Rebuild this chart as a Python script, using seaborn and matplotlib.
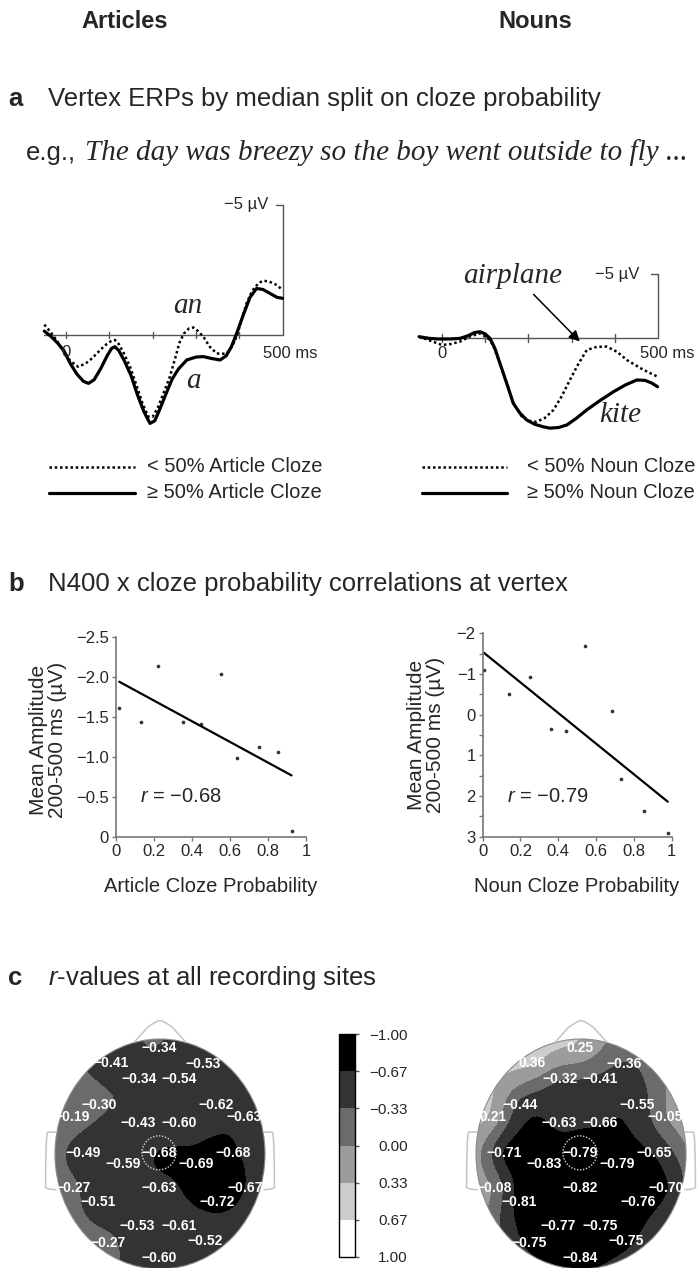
import numpy as np
import pandas as pd
import matplotlib
matplotlib.use("Agg")
import matplotlib.pyplot as plt
import seaborn as sns
from matplotlib.patches import Circle, Ellipse, PathPatch
from matplotlib.path import Path

# ---------------- data ----------------
# Vertex ERPs (ms, microvolts; negative plotted up)
art_hi_ms = [-50, -35, -20, -5, 10, 25, 40, 52, 65, 80, 95, 105, 113, 122, 135, 150, 165, 180, 194, 205,
             218, 230, 245, 260, 279, 300, 317, 335, 356, 370, 382, 395, 410, 425, 440, 455, 471, 487, 500]
art_hi_uv = [-0.15, 0.05, 0.3, 0.6, 1.1, 1.5, 1.78, 1.86, 1.72, 1.3, 0.8, 0.52, 0.45, 0.6, 1.0, 1.55, 2.3,
             2.95, 3.4, 3.3, 2.8, 2.3, 1.7, 1.3, 0.96, 0.85, 0.83, 0.9, 0.96, 0.8, 0.45, -0.1, -0.8, -1.45,
             -1.79, -1.75, -1.6, -1.45, -1.41]
art_lo_ms = [-50, -35, -20, -5, 10, 28, 45, 60, 71, 90, 105, 113, 122, 135, 148, 162, 176, 190, 200, 212,
             226, 240, 252, 262, 272, 284, 294, 305, 317, 332, 348, 362, 371, 383, 394, 405, 417, 430, 445,
             456, 470, 487, 500]
art_lo_uv = [-0.4, -0.1, 0.25, 0.65, 1.0, 1.22, 1.1, 0.9, 0.71, 0.4, 0.22, 0.19, 0.35, 0.75, 1.22, 1.9,
             2.6, 3.14, 3.15, 2.8, 2.2, 1.6, 0.9, 0.3, -0.05, -0.25, -0.29, -0.15, 0.06, 0.45, 0.71, 0.72,
             0.71, 0.45, 0.06, -0.55, -1.22, -1.7, -2.0, -2.09, -2.05, -1.92, -1.73]
noun_hi_ms = [-53, -30, -10, 0, 20, 42, 60, 75, 88, 100, 111, 122, 134, 150, 165, 180, 196, 215, 235, 250,
              270, 289, 310, 335, 365, 397, 425, 451, 470, 485, 499]
noun_hi_uv = [-0.08, 0.05, 0.1, 0.1, 0.1, 0.05, -0.15, -0.4, -0.47, -0.3, 0.05, 0.8, 2.0, 3.6, 5.15, 5.9,
              6.46, 6.8, 7.0, 7.1, 7.05, 6.85, 6.35, 5.67, 4.95, 4.24, 3.7, 3.32, 3.35, 3.55, 3.85]
noun_lo_ms = [-53, -30, -10, 0, 20, 42, 65, 88, 100, 111, 122, 134, 150, 165, 185, 205, 219, 238, 258, 277,
              296, 315, 335, 358, 381, 405, 428, 460, 480, 499]
noun_lo_uv = [-0.08, 0.2, 0.45, 0.57, 0.5, 0.3, -0.1, -0.34, -0.1, 0.18, 0.9, 2.0, 3.6, 5.15, 6.2, 6.55,
              6.6, 6.3, 5.67, 4.6, 3.32, 2.1, 0.97, 0.72, 0.7, 1.1, 1.75, 2.4, 2.75, 3.06]

# N400 x cloze correlations
art_cloze = [0.017, 0.132, 0.219, 0.351, 0.446, 0.553, 0.639, 0.754, 0.851, 0.924]
art_amp = [-1.61, -1.44, -2.13, -1.44, -1.41, -2.04, -0.99, -1.12, -1.06, -0.08]
noun_cloze = [0.007, 0.137, 0.248, 0.361, 0.441, 0.541, 0.684, 0.732, 0.855, 0.979]
noun_amp = [-1.11, -0.50, -0.92, 0.35, 0.40, -1.68, -0.10, 1.59, 2.38, 2.90]
art_r_label = "\u22120.68"
noun_r_label = "\u22120.79"
art_yticks = [-2.5, -2.0, -1.5, -1.0, -0.5, 0]
art_yticklabels = ["\u22122.5", "\u22122.0", "\u22121.5", "\u22121.0", "\u22120.5", "0"]
noun_yticks = [-2, -1, 0, 1, 2, 3]
noun_yticklabels = ["\u22122", "\u22121", "0", "1", "2", "3"]
xticks = [0, 0.2, 0.4, 0.6, 0.8, 1]
xticklabels = ["0", "0.2", "0.4", "0.6", "0.8", "1"]

# r-values at recording sites (head coordinates, radius 1)
elec_x = [-0.01, -0.47, 0.41, -0.20, 0.18, -0.58, 0.53, -0.84, 0.80, -0.21, 0.18, -0.73, -0.01, 0.70,
          -0.35, 0.34, -0.83, -0.01, 0.81, -0.59, 0.54, -0.22, 0.18, -0.49, 0.43, -0.01]
elec_y = [0.92, 0.79, 0.78, 0.65, 0.65, 0.43, 0.43, 0.32, 0.32, 0.27, 0.27, 0.01, 0.01, 0.01,
          -0.09, -0.09, -0.30, -0.30, -0.30, -0.42, -0.42, -0.63, -0.63, -0.77, -0.76, -0.90]
r_art = [-0.34, -0.41, -0.53, -0.34, -0.54, -0.30, -0.62, -0.19, -0.63, -0.43, -0.60, -0.49, -0.68, -0.68,
         -0.59, -0.69, -0.27, -0.63, -0.67, -0.51, -0.72, -0.53, -0.61, -0.27, -0.52, -0.60]
r_noun = [0.25, 0.36, -0.36, -0.32, -0.41, -0.44, -0.55, 0.21, -0.05, -0.63, -0.66, -0.71, -0.79, -0.65,
          -0.83, -0.79, -0.08, -0.82, -0.70, -0.81, -0.76, -0.77, -0.75, -0.75, -0.75, -0.84]
cbar_levels = [-1.0, -0.67, -0.33, 0.0, 0.33, 0.67, 1.0]
cbar_ticklabels = ["\u22121.00", "\u22120.67", "\u22120.33", "0.00", "0.33", "0.67", "1.00"]
level_colors = ["#000000", "#333333", "#6b6b6b", "#9c9c9c", "#cdcdcd", "#ffffff"]

# ---------------- style ----------------
sns.set_theme(style="white")
plt.rcParams["font.family"] = ["Liberation Sans", "DejaVu Sans"]
plt.rcParams["mathtext.fontset"] = "custom"
plt.rcParams["mathtext.rm"] = "Liberation Sans"
plt.rcParams["mathtext.it"] = "Liberation Sans:italic"

W, H = 698, 1268
fig = plt.figure(figsize=(W / 100, H / 100), dpi=100)
fig.patch.set_facecolor("white")


def add_ax(l, t, r, b):
    a = fig.add_axes([l / W, 1 - b / H, (r - l) / W, (b - t) / H])
    a.set_facecolor("none")
    return a


def ftxt(x, y, s, **kw):
    return fig.text(x / W, 1 - y / H, s, **kw)


overlay = add_ax(0, 0, W, H)
overlay.set_xlim(0, W)
overlay.set_ylim(H, 0)
overlay.axis("off")

SERIF = ["Liberation Serif", "DejaVu Serif"]
AX_GRAY = "#555555"

# ---------------- headings ----------------
ftxt(125, 22, "Articles", fontsize=17, fontweight="bold", ha="center", va="center")
ftxt(535, 22, "Nouns", fontsize=17, fontweight="bold", ha="center", va="center")
ftxt(8, 106, "a", fontsize=18.5, fontweight="bold", va="baseline")
ftxt(48, 106, "Vertex ERPs by median split on cloze probability", fontsize=18.5, va="baseline")
ftxt(8, 591, "b", fontsize=18.5, fontweight="bold", va="baseline")
ftxt(48, 591, "N400 x cloze probability correlations at vertex", fontsize=18.5, va="baseline")
ftxt(8, 985, "c", fontsize=18.5, fontweight="bold", va="baseline")
ftxt(48, 985, r"$r$-values at all recording sites", fontsize=18.5, va="baseline")

eg = ftxt(26, 160, "e.g.,", fontsize=18.5, va="baseline")
fig.canvas.draw()
x_start = eg.get_window_extent().x1 + 9
sent = ftxt(x_start, 160, "The day was breezy so the boy went outside to fly ...",
            fontsize=20, va="baseline", family=SERIF, style="italic")
fig.canvas.draw()
wid = sent.get_window_extent().width
sent.set_fontsize(20 * (689 - x_start) / wid)


# ---------------- panel a: ERPs ----------------
def draw_erp(ax, hi_ms, hi_uv, lo_ms, lo_uv, tick_half):
    for t in [0, 100, 200, 300, 400]:
        ax.plot([t, t], [-tick_half, tick_half], color=AX_GRAY, lw=1, zorder=1)
    ax.plot([-50, 500], [0, 0], color=AX_GRAY, lw=1, zorder=1)
    ax.plot([500, 500], [0, -5], color=AX_GRAY, lw=1, zorder=1)
    ax.plot([484, 500], [-5, -5], color=AX_GRAY, lw=1, zorder=1)
    sns.lineplot(data=pd.DataFrame({"ms": lo_ms, "uv": lo_uv}), x="ms", y="uv", ax=ax,
                 color="black", lw=1.8, linestyle=(0, (1, 1.1)), estimator=None, sort=False, zorder=3)
    sns.lineplot(data=pd.DataFrame({"ms": hi_ms, "uv": hi_uv}), x="ms", y="uv", ax=ax,
                 color="black", lw=2.3, estimator=None, sort=False, zorder=4)
    ax.axis("off")


axEL = add_ax(66 - 60 * 0.433, 335 - 5.6 * 26, 66 + 520 * 0.433, 335 + 4.2 * 26)
draw_erp(axEL, art_hi_ms, art_hi_uv, art_lo_ms, art_lo_uv, 0.13)
axEL.set_xlim(-60, 520)
axEL.set_ylim(4.2, -5.6)

axER = add_ax(442 - 60 * 0.432, 337.7 - 5.6 * 12.74, 442 + 520 * 0.432, 337.7 + 8.2 * 12.74)
draw_erp(axER, noun_hi_ms, noun_hi_uv, noun_lo_ms, noun_lo_uv, 0.3)
axER.set_xlim(-60, 520)
axER.set_ylim(8.2, -5.6)
axER.annotate("", xy=(319, 0.3), xytext=(212, -3.4),
              arrowprops=dict(arrowstyle="-|>", color="black", lw=1.1, mutation_scale=16,
                              shrinkA=0, shrinkB=0), zorder=6)

ftxt(268, 205, "\u22125 \u00b5V", fontsize=12, ha="right", va="center")
ftxt(639, 274, "\u22125 \u00b5V", fontsize=12, ha="right", va="center")
ftxt(66, 352, "0", fontsize=12, ha="center", va="center")
ftxt(442, 353, "0", fontsize=12, ha="center", va="center")
ftxt(290, 353, "500 ms", fontsize=12, ha="center", va="center")
ftxt(667, 353, "500 ms", fontsize=12, ha="center", va="center")
ftxt(188, 306, "an", fontsize=21, family=SERIF, style="italic", ha="center", va="center")
ftxt(193, 381, "a", fontsize=21, family=SERIF, style="italic", ha="center", va="center")
ftxt(513, 276, "airplane", fontsize=21, family=SERIF, style="italic", ha="center", va="center")
ftxt(620, 415, "kite", fontsize=21, family=SERIF, style="italic", ha="center", va="center")

# legends
for (x0, x1, tx, lo_lab, hi_lab) in [(49, 135, 147, "< 50% Article Cloze", "\u2265 50% Article Cloze"),
                                      (422, 507, 527, "< 50% Noun Cloze", "\u2265 50% Noun Cloze")]:
    overlay.plot([x0, x1], [466.5, 466.5], color="black", lw=1.8, linestyle=(0, (1, 1.1)))
    overlay.plot([x0, x1], [492.5, 492.5], color="black", lw=2.3)
    overlay.text(tx, 466.5, lo_lab, fontsize=14.5, va="center")
    overlay.text(tx, 492.5, hi_lab, fontsize=14.5, va="center")


# ---------------- panel b: scatter ----------------
def style_scatter(ax, yticks, ylabels, ylim, minor=None):
    ax.set_xlim(0, 1)
    ax.set_ylim(*ylim)
    ax.set_xticks(xticks)
    ax.set_xticklabels(xticklabels)
    ax.set_yticks(yticks)
    ax.set_yticklabels(ylabels)
    if minor is not None:
        ax.set_yticks(minor, minor=True)
    sns.despine(ax=ax)
    for s in ["left", "bottom"]:
        ax.spines[s].set_color("#777777")
        ax.spines[s].set_linewidth(1.2)
    ax.tick_params(which="both", direction="out", length=3, width=1, color="#777777",
                   labelsize=12, pad=2, left=True, bottom=True)
    ax.set_xlabel("")
    ax.set_ylabel("")


axSL = add_ax(116, 636.7, 306, 837.3)
sns.regplot(x=np.array(art_cloze), y=np.array(art_amp), ax=axSL, ci=None, truncate=True, color="black",
            scatter_kws=dict(s=7, linewidths=0), line_kws=dict(lw=1.6))
style_scatter(axSL, art_yticks, art_yticklabels, (0, -2.5))

axSR = add_ax(482.7, 633.3, 671.7, 836.7)
sns.regplot(x=np.array(noun_cloze), y=np.array(noun_amp), ax=axSR, ci=None, truncate=True, color="black",
            scatter_kws=dict(s=7, linewidths=0), line_kws=dict(lw=1.6))
style_scatter(axSR, noun_yticks, noun_yticklabels, (3, -2), minor=[-1.5, -0.5, 0.5, 1.5, 2.5])

ylab = "Mean Amplitude\n200-500 ms (\u00b5V)"
ftxt(48, 740, ylab, fontsize=15, rotation=90, ha="center", va="center", multialignment="center",
     linespacing=0.95)
ftxt(426, 735, ylab, fontsize=15, rotation=90, ha="center", va="center", multialignment="center",
     linespacing=0.95)
ftxt(211, 886, "Article Cloze Probability", fontsize=14.5, ha="center", va="center")
ftxt(577, 886, "Noun Cloze Probability", fontsize=14.5, ha="center", va="center")
ftxt(140, 797, r"$r$ = " + art_r_label, fontsize=14.5, ha="left", va="center")
ftxt(507, 797, r"$r$ = " + noun_r_label, fontsize=14.5, ha="left", va="center")


# ---------------- panel c: topographic maps ----------------
def biharmonic(xe, ye, ve, XI, YI):
    xe, ye, ve = np.asarray(xe), np.asarray(ye), np.asarray(ve)
    d = np.hypot(xe[:, None] - xe[None, :], ye[:, None] - ye[None, :])
    with np.errstate(divide="ignore", invalid="ignore"):
        G = np.where(d > 0, d ** 2 * (np.log(d) - 1), 0.0)
    w = np.linalg.solve(G, ve)
    D = np.hypot(XI[..., None] - xe, YI[..., None] - ye)
    with np.errstate(divide="ignore", invalid="ignore"):
        GI = np.where(D > 0, D ** 2 * (np.log(D) - 1), 0.0)
    return GI @ w


def draw_head(cx, values):
    ax = add_ax(cx - 1.2 * 105, 1154 - 1.25 * 115, cx + 1.2 * 105, 1154 + 1.0 * 115)
    ax.set_xlim(-1.2, 1.2)
    ax.set_ylim(-1.0, 1.25)
    ax.axis("off")
    g = np.linspace(-1.03, 1.03, 260)
    X, Y = np.meshgrid(g, g)
    Z = biharmonic(elec_x, elec_y, values, X, Y)
    Z = np.clip(Z, -0.999, 0.999)
    Z[np.hypot(X, Y) > 1.03] = np.nan
    cs = ax.contourf(X, Y, Z, levels=cbar_levels, colors=level_colors, zorder=1)
    clip = Circle((0, 0), 1.0, transform=ax.transData)
    cs.set_clip_path(clip)
    ax.add_patch(Circle((0, 0), 1.0, fill=False, edgecolor="#8a8a8a", lw=0.8, zorder=2))
    # nose
    nose = Path([(-0.25, 0.968), (-0.12, 1.10), (-0.03, 1.16), (0, 1.16), (0.03, 1.16), (0.12, 1.10),
                 (0.25, 0.968)],
                [Path.MOVETO, Path.LINETO, Path.CURVE3, Path.CURVE3, Path.CURVE3, Path.CURVE3, Path.LINETO])
    ax.add_patch(PathPatch(nose, fill=False, edgecolor="#c4c4c4", lw=1.1, zorder=2))
    # ears
    for s in (-1, 1):
        ear = Path([(s * 0.985, 0.19), (s * 1.07, 0.19), (s * 1.09, 0.17), (s * 1.09, -0.29),
                    (s * 1.07, -0.31), (s * 0.985, -0.31)],
                   [Path.MOVETO, Path.LINETO, Path.CURVE3, Path.LINETO, Path.CURVE3, Path.LINETO])
        ax.add_patch(PathPatch(ear, fill=False, edgecolor="#c4c4c4", lw=1.1, zorder=2))
    ax.add_patch(Ellipse((elec_x[12], elec_y[12]), 2 * 17 / 105, 2 * 17 / 115, fill=False,
                         edgecolor="#d8d8d8", lw=1.0, linestyle=(0, (1, 1.2)), zorder=3))
    for x, y, v in zip(elec_x, elec_y, values):
        ax.text(x, y, f"{v:.2f}".replace("-", "\u2212"), ha="center", va="center", color="white",
                fontsize=10, fontweight="bold", zorder=4)
    return cs


cs = draw_head(160, r_art)
draw_head(581, r_noun)

cax = add_ax(339, 1034, 355, 1257)
cb = fig.colorbar(cs, cax=cax, drawedges=True, ticks=cbar_levels)
cax.invert_yaxis()
cb.set_ticklabels(cbar_ticklabels)
cb.outline.set_linewidth(1.0)
cb.outline.set_edgecolor("black")
cb.dividers.set_color("black")
cb.dividers.set_linewidth(1.0)
cax.tick_params(length=3, width=1, color="#555555", labelsize=11, pad=35)
for lab in cax.get_yticklabels():
    lab.set_horizontalalignment("right")

fig.savefig("out.png", dpi=100, facecolor="white")
